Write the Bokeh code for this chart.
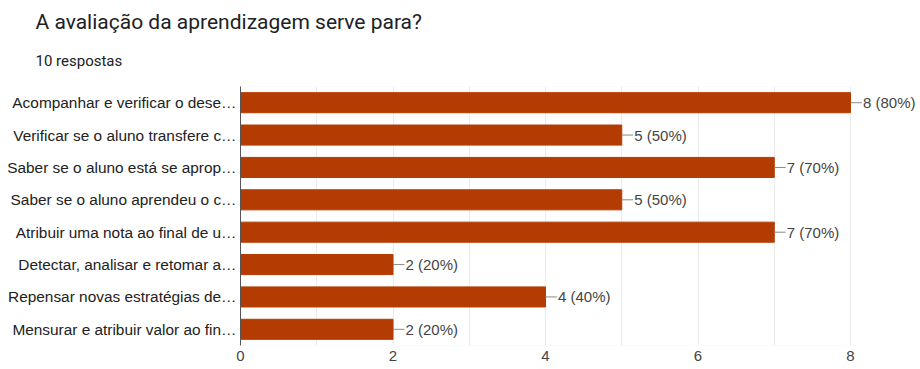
from bokeh.plotting import figure
from bokeh.models import (FactorRange, Range1d, FixedTicker, Title, ColumnDataSource,
                          LabelSet, BoxAnnotation)
from bokeh.core.properties import value
from bokeh.embed import file_html
from bokeh.resources import INLINE

title_text = "A avaliação da aprendizagem serve para?"
subtitle_text = "10 respostas"
categories = [
    "Acompanhar e verificar o dese\u2026",
    "Verificar se o aluno transfere c\u2026",
    "Saber se o aluno está se aprop\u2026",
    "Saber se o aluno aprendeu o c\u2026",
    "Atribuir uma nota ao final de u\u2026",
    "Detectar, analisar e retomar a\u2026",
    "Repensar novas estratégias de\u2026",
    "Mensurar e atribuir valor ao fin\u2026",
]
counts = [8, 5, 7, 5, 7, 2, 4, 2]
total = 10
x_ticks = [0, 2, 4, 6, 8]
x_max = 8

TFONT = "Roboto"
FONT = "Liberation Sans"
BAR = "#b43c02"
TXT = "#444444"

W, H = 920, 369
LEFT = 240
AXIS_W = 610  # pixel width of the 0..x_max axis
x_end = x_max * (W - LEFT) / AXIS_W

labels = [f"{c} ({round(c * 100 / total)}%)" for c in counts]
src = ColumnDataSource(dict(cat=categories, n=counts, lab=labels,
                            ends=[c + 0.15 for c in counts]))

p = figure(width=W, height=H, output_backend="svg", toolbar_location=None,
           y_range=FactorRange(factors=categories[::-1], range_padding=0),
           x_range=Range1d(0, x_end),
           min_border_left=LEFT, min_border_right=0, min_border_bottom=24,
           min_border_top=86)

p.title.visible = False
t2 = Title(text=subtitle_text, text_font=TFONT, text_font_size="15px",
           text_font_style="normal", text_color="#202124", align="left",
           vertical_align="top", offset=-205, standoff=30)
t1 = Title(text=title_text, text_font=TFONT, text_font_size="21px",
           text_font_style="normal", text_color="#202124", align="left",
           offset=-205, standoff=6)
p.add_layout(t2, "above")
p.add_layout(t1, "above")

p.add_layout(BoxAnnotation(left=0, right=x_max, fill_alpha=0,
                           line_color="#e6e6e6", line_width=1, level="underlay"))

p.hbar(y="cat", right="n", left=0, height=0.62, source=src,
       fill_color=BAR, line_color=BAR)
p.segment(x0="n", x1="ends", y0="cat", y1="cat", source=src,
          line_color="#888888", line_width=1)
lbl = LabelSet(x="ends", y="cat", text="lab", source=src, text_font_size="15px",
               text_font=value(FONT), text_color=TXT, text_baseline="middle",
               text_align="left", x_offset=1)
p.add_layout(lbl)

p.xaxis.ticker = FixedTicker(ticks=x_ticks)
p.xgrid.ticker = FixedTicker(ticks=list(range(0, x_max + 1)))
p.xgrid.grid_line_color = "#ebebeb"
p.ygrid.grid_line_color = None
p.xaxis.axis_line_color = None
p.xaxis.major_tick_line_color = None
p.xaxis.minor_tick_line_color = None
p.xaxis.major_tick_out = 0
p.xaxis.major_label_standoff = 5
p.xaxis.major_label_text_font_size = "15px"
p.xaxis.major_label_text_color = TXT
p.yaxis.axis_line_color = "#555555"
p.yaxis.major_tick_line_color = None
p.yaxis.minor_tick_line_color = None
p.yaxis.major_tick_out = 0
p.yaxis.major_label_standoff = 4
p.yaxis.major_label_text_font_size = "15.4px"
p.yaxis.major_label_text_color = "#222222"
p.outline_line_color = None
for ax in (p.xaxis, p.yaxis):
    ax.major_label_text_font = FONT

open("out.html", "w").write(file_html(p, INLINE))
